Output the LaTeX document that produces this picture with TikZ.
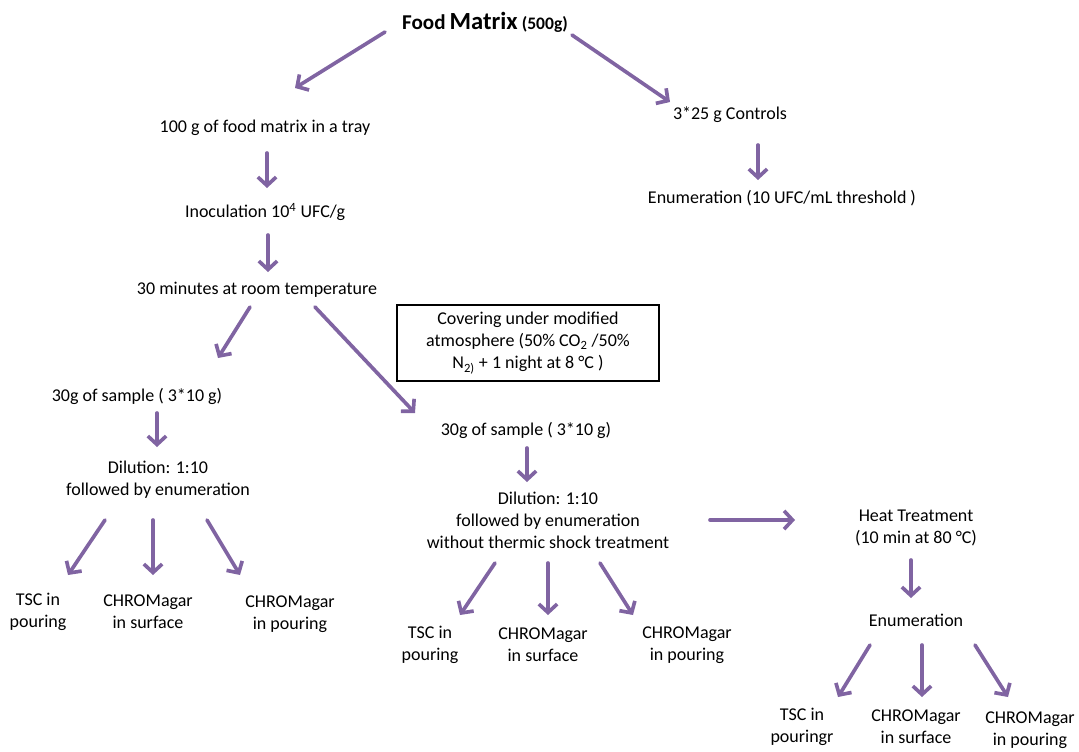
\documentclass[tikz,border=0pt]{standalone}
\usepackage{fontspec}
\setmainfont{Carlito}
\usepackage{xcolor}
\usetikzlibrary{arrows.meta}

\definecolor{flowpurple}{HTML}{8064A2}

\begin{document}
\begin{tikzpicture}[
    x=0.025cm, y=-0.025cm,
    font=\fontsize{12.8}{15.6}\selectfont,
    step label/.style={align=center, inner sep=1pt, text=black},
    cover box/.style={draw=black, line width=0.8pt, align=center, minimum width=6.55cm, minimum height=1.9cm, inner sep=2pt},
    link/.style={-{Straight Barb[length=6pt, width=13pt]}, line width=2.6pt, flowpurple, line cap=round}
]
    \useasboundingbox (0,0) rectangle (1079,751);

    % top
    \node[step label] (food) at (485,22) {{\fontsize{15}{17}\selectfont\bfseries Food} {\fontsize{17.5}{19}\selectfont\bfseries Matrix} {\fontsize{12.5}{14}\selectfont\bfseries (500g)}};
    \node[step label] (tray) at (265,128) {100 g of food matrix in a tray};
    \node[step label] (ctrl) at (730,115) {3*25 g Controls};
    \node[step label] (enumc) at (782,198) {Enumeration (10 UFC/mL threshold )};
    \node[step label] (inoc) at (265,212) {Inoculation 10\textsuperscript{4} UFC/g};
    \node[step label] (room) at (257,290) {30 minutes at room temperature};
    \node[cover box] (cover) at (528,343) {Covering under modified\\atmosphere (50\% CO\textsubscript{2} /50\%\\N\textsubscript{2)} + 1 night at 8 °C )};

    % left branch
    \node[step label] (sampA) at (137,396) {30g of sample ( 3*10 g)};
    \node[step label] (dilA) at (158,480) {Dilution: 1:10\\followed by enumeration};
    \node[step label] (tscA) at (38,612) {TSC in\\pouring};
    \node[step label] (surfA) at (148,612) {CHROMagar\\in surface};
    \node[step label] (pourA) at (290,614) {CHROMagar\\in pouring};

    % middle branch
    \node[step label] (sampB) at (526,430) {30g of sample ( 3*10 g)};
    \node[step label] (dilB) at (548,520) {Dilution: 1:10\\followed by enumeration\\without thermic shock treatment};
    \node[step label] (tscB) at (430,645) {TSC in\\pouring};
    \node[step label] (surfB) at (543,645) {CHROMagar\\in surface};
    \node[step label] (pourB) at (687,645) {CHROMagar\\in pouring};

    % heat branch
    \node[step label] (heat) at (916,528) {Heat Treatment\\(10 min at 80 °C)};
    \node[step label] (enumh) at (916,620) {Enumeration};
    \node[step label] (tscC) at (802,727) {TSC in\\pouringr};
    \node[step label] (surfC) at (916,727) {CHROMagar\\in surface};
    \node[step label] (pourC) at (1030,730) {CHROMagar\\in pouring};

    \draw[link] ([shift={(-100,10)}]food.center) -- ([shift={(30,-40)}]tray.center);
    \draw[link] ([shift={(87,13)}]food.center) -- ([shift={(-60,-13)}]ctrl.center);
    \draw[link] ([shift={(28,30)}]ctrl.center) -- ([shift={(-24,-18)}]enumc.center);
    \draw[link] ([shift={(2,25)}]tray.center) -- ([shift={(2,-24)}]inoc.center);
    \draw[link] ([shift={(3,23)}]inoc.center) -- ([shift={(11,-18)}]room.center);
    \draw[link] ([shift={(-7,17)}]room.center) -- ([shift={(81,-38)}]sampA.center);
    \draw[link] ([shift={(58,17)}]room.center) -- ([shift={(-111,-17)}]sampB.center);

    \draw[link] ([shift={(20,17)}]sampA.center) -- ([shift={(-1,-33)}]dilA.center);
    \draw[link] ([shift={(-53,40)}]dilA.center) -- ([shift={(30,-37)}]tscA.center);
    \draw[link] ([shift={(-5,40)}]dilA.center) -- ([shift={(5,-37)}]surfA.center);
    \draw[link] ([shift={(49,40)}]dilA.center) -- ([shift={(-50,-39)}]pourA.center);

    \draw[link] ([shift={(1,18)}]sampB.center) -- ([shift={(-21,-38)}]dilB.center);
    \draw[link] ([shift={(162,0)}]dilB.center) -- ([shift={(-121,-8)}]heat.center);
    \draw[link] ([shift={(-53,43)}]dilB.center) -- ([shift={(30,-30)}]tscB.center);
    \draw[link] ([shift={(0,43)}]dilB.center) -- ([shift={(5,-30)}]surfB.center);
    \draw[link] ([shift={(52,43)}]dilB.center) -- ([shift={(-54,-30)}]pourB.center);

    \draw[link] ([shift={(-5,32)}]heat.center) -- ([shift={(-5,-22)}]enumh.center);
    \draw[link] ([shift={(-46,25)}]enumh.center) -- ([shift={(36,-30)}]tscC.center);
    \draw[link] ([shift={(6,25)}]enumh.center) -- ([shift={(6,-30)}]surfC.center);
    \draw[link] ([shift={(59,25)}]enumh.center) -- ([shift={(-22,-33)}]pourC.center);
\end{tikzpicture}
\end{document}
